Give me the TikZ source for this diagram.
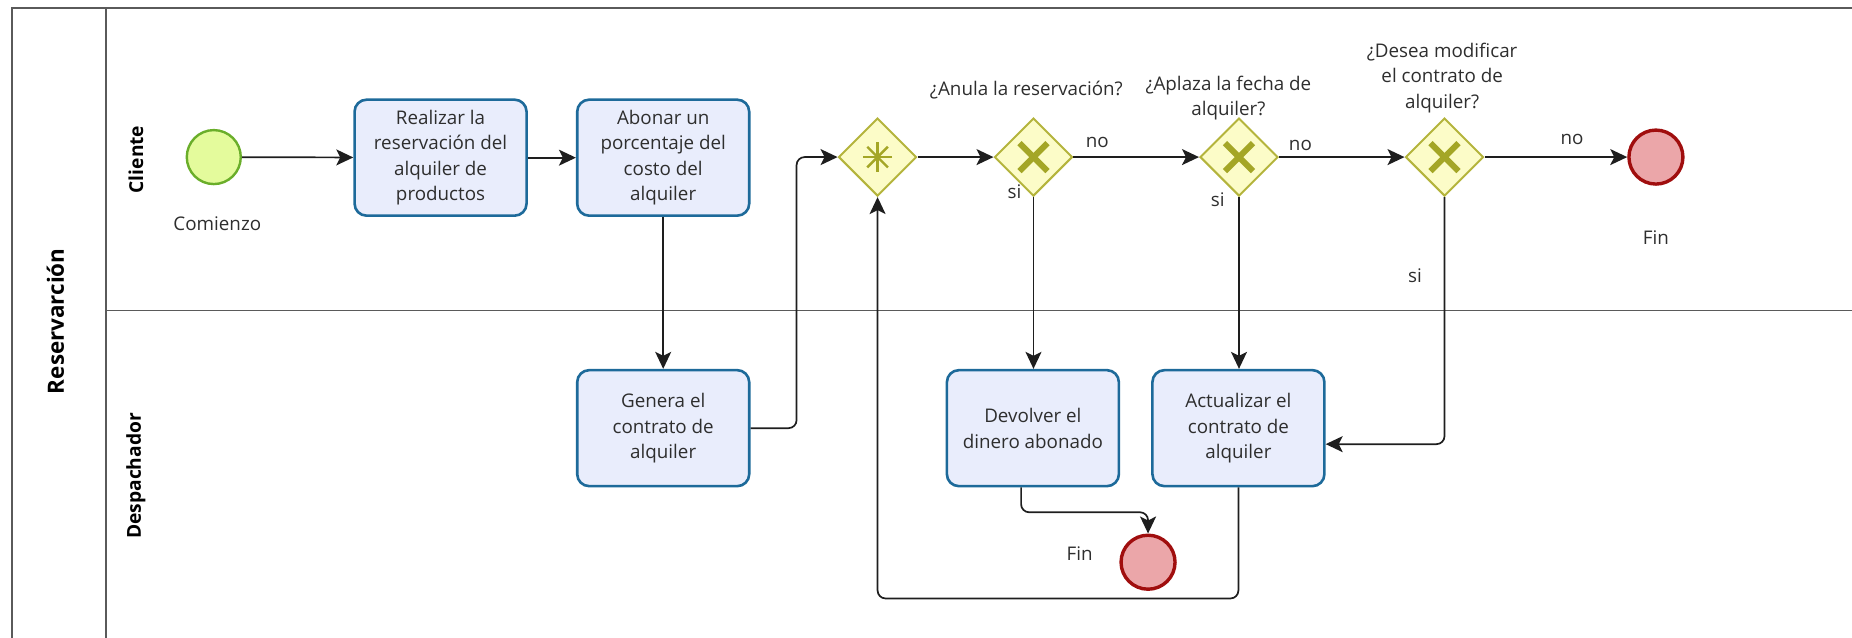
\documentclass[tikz,border=0pt]{standalone}
\usepackage{fontspec}
\setmainfont{Open Sans}
\usetikzlibrary{shapes.geometric,arrows.meta}
\definecolor{taskfill}{HTML}{E9EDFC}
\definecolor{taskline}{HTML}{1D6A9A}
\definecolor{gwfill}{HTML}{FCFCC8}
\definecolor{gwline}{HTML}{B4B43C}
\definecolor{gwmark}{HTML}{A4A626}
\definecolor{startfill}{HTML}{E4FB9C}
\definecolor{startline}{HTML}{6AAE2A}
\definecolor{endfill}{HTML}{EBA6A9}
\definecolor{endline}{HTML}{A00E0E}
\definecolor{poolline}{HTML}{5A5A5A}
\definecolor{txt}{HTML}{2E2E2E}
\definecolor{flowline}{HTML}{1E1E1E}

\begin{document}
\begin{tikzpicture}[x=0.59055pt,y=-0.59055pt,
  font=\fontsize{9.4}{12.8}\selectfont,
  task/.style={draw=taskline, fill=taskfill, line width=1.3pt, rounded corners=6pt,
    minimum width=86pt, minimum height=58pt, align=center, text=txt, inner sep=0pt},
  gw/.style={diamond, draw=gwline, fill=gwfill, line width=1pt,
    minimum width=39pt, minimum height=39pt, inner sep=0pt},
  startev/.style={circle, draw=startline, fill=startfill, line width=1.2pt,
    minimum size=27pt, inner sep=0pt},
  endev/.style={circle, draw=endline, fill=endfill, line width=1.7pt,
    minimum size=27pt, inner sep=0pt},
  flow/.style={draw=flowline, line width=0.85pt, rounded corners=4pt,
    -{Stealth[length=8.5pt,width=8pt,inset=2pt]}},
  lbl/.style={text=txt, align=center, inner sep=0pt},
  lanelbl/.style={font=\fontsize{9.6}{12}\selectfont\bfseries, rotate=90, text=black, inner sep=0pt},
  xmark/.style={draw=gwmark, line width=3pt},
  starmark/.style={draw=gwmark, line width=1.2pt},
  poolrule/.style={draw=poolline, line width=0.85pt}
]
\useasboundingbox (0,0) rectangle (1568,540);

% pool and lanes
\draw[poolrule] (1568,7) -- (10,7) -- (10,540);
\draw[poolrule] (90,7) -- (90,540);
\draw[poolrule] (90,263) -- (1568,263);
\node[lanelbl, font=\fontsize{11.2}{13}\selectfont\bfseries] (pool) at (47,272) {Reservarción};
\node[lanelbl] (lanec) at (115,135) {Cliente};
\node[lanelbl] (laned) at (115,403) {Despachador};

% events, tasks and gateways
\node[startev] (start) at (181,133) {};
\node[lbl] (startlbl) at (184,189) {Comienzo};
\node[task] (t1) at (373,133.5) {Realizar la\\reservación del\\alquiler de\\productos};
\node[task] (t2) at (561.5,133.5) {Abonar un\\porcentaje del\\costo del\\alquiler};
\node[task] (t3) at (561.5,362.5) {Genera el\\contrato de\\alquiler};
\node[gw] (g0) at (743,133) {};
\node[gw] (g1) at (875,133) {};
\node[gw] (g2) at (1049,133) {};
\node[gw] (g3) at (1223,133) {};
\node[endev] (e1) at (1402,133) {};
\node[lbl] (e1lbl) at (1402,201) {Fin};
\node[task] (t4) at (874.5,362.5) {Devolver el\\dinero abonado};
\node[task] (t5) at (1048.5,362.5) {Actualizar el\\contrato de\\alquiler};
\node[endev] (e2) at (972,476) {};
\node[lbl] (e2lbl) at (914,469) {Fin};

% gateway markers
\foreach \g in {g1,g2,g3}{
  \draw[xmark] ([shift={(-7pt,-7pt)}]\g.center) -- ([shift={(7pt,7pt)}]\g.center);
  \draw[xmark] ([shift={(-7pt,7pt)}]\g.center) -- ([shift={(7pt,-7pt)}]\g.center);
}
\foreach \a in {0,45,90,135}{
  \draw[starmark] ([shift={(\a:7.3pt)}]g0.center) -- ([shift={(\a+180:7.3pt)}]g0.center);
}

% gateway questions
\node[lbl] (q1) at (869,76) {¿Anula la reservación?};
\node[lbl] (q2) at (1040,83) {¿Aplaza la fecha de\\alquiler?};
\node[lbl] (q3) at (1221,66) {¿Desea modificar\\el contrato de\\alquiler?};

% sequence flows
\draw[flow] (start) -- (t1);
\draw[flow] (t1) -- (t2);
\draw[flow] (t2) -- (t3);
\draw[flow] (t3.east) -- ++(39,0) |- (g0.west);
\draw[flow] (g0) -- (g1);
\draw[flow] (g1) -- (g2);
\draw[flow] (g2) -- (g3);
\draw[flow] (g3) -- (e1);
\draw[flow] (g1.south) -- (g1.south |- t4.north);
\draw[flow] (g2.south) -- (g2.south |- t5.north);
\draw[flow] (g3.south) |- ([yshift=-8pt]t5.east);
\draw[flow] ([xshift=-5.9pt]t4.south) -- ++(0,21) -| (e2.north);
\draw[flow] (t5.south) -- ++(0,94) -| (g0.south);

% flow labels
\node[lbl] (no1) at (929,121) {no};
\node[lbl] (no2) at (1101,123) {no};
\node[lbl] (no3) at (1331,118) {no};
\node[lbl] (si1) at (859,162) {si};
\node[lbl] (si2) at (1031,169) {si};
\node[lbl] (si3) at (1198,233) {si};
\end{tikzpicture}
\end{document}
